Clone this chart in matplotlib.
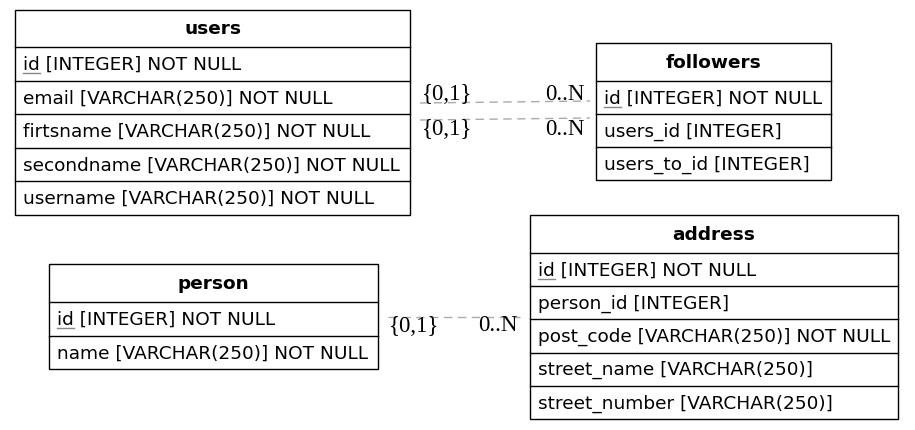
import matplotlib
matplotlib.use('Agg')
import matplotlib.pyplot as plt
from matplotlib.patches import Rectangle

# tables and their columns
users_cols = ['id [INTEGER] NOT NULL', 'email [VARCHAR(250)] NOT NULL',
              'firtsname [VARCHAR(250)] NOT NULL', 'secondname [VARCHAR(250)] NOT NULL',
              'username [VARCHAR(250)] NOT NULL']
followers_cols = ['id [INTEGER] NOT NULL', 'users_id [INTEGER]', 'users_to_id [INTEGER]']
person_cols = ['id [INTEGER] NOT NULL', 'name [VARCHAR(250)] NOT NULL']
address_cols = ['id [INTEGER] NOT NULL', 'person_id [INTEGER]',
                'post_code [VARCHAR(250)] NOT NULL', 'street_name [VARCHAR(250)]',
                'street_number [VARCHAR(250)]']

# box positions in pixels: x0, x1, y_top, header height, row height
boxes = {
    'users': (users_cols, 15, 410, 11, 37, 33.6),
    'followers': (followers_cols, 596, 831, 44, 38, 33),
    'person': (person_cols, 49, 378, 265, 38, 33.5),
    'address': (address_cols, 530, 898, 216, 38, 33.2),
}

# relations: (x0, y0, x1, y1, left label pos, right label pos)
relations = [
    (420, 104, 590, 102, (422, 94), (585, 94)),
    (420, 121, 590, 119, (422, 130), (585, 130)),
    (388, 318, 520, 318, (389, 327), (518, 326)),
]

fig = plt.figure(figsize=(9.15, 4.31), dpi=100)
ax = fig.add_axes([0, 0, 1, 1])
ax.set_xlim(0, 915)
ax.set_ylim(431, 0)
ax.axis('off')

for name, (cols, x0, x1, yt, hh, rh) in boxes.items():
    total = hh + rh * len(cols)
    ax.add_patch(Rectangle((x0, yt), x1 - x0, total, fill=False, edgecolor='black', lw=1))
    ax.text((x0 + x1) / 2, yt + hh / 2, name, ha='center', va='center',
            fontsize=13.3, fontweight='bold')
    y = yt + hh
    for c in cols:
        ax.plot([x0, x1], [y, y], color='black', lw=1)
        ax.text(x0 + 8, y + rh / 2, c, ha='left', va='center', fontsize=13.3)
        if c.startswith('id '):
            ax.plot([x0 + 8, x0 + 25], [y + rh / 2 + 9, y + rh / 2 + 9], color='#888888', lw=1)
        y += rh

for x0, y0, x1, y1, lp, rp in relations:
    ax.plot([x0, x1], [y0, y1], color='#aaaaaa', lw=1, ls=(0, (6, 4)))
    ax.text(lp[0], lp[1], '{0,1}', ha='left', va='center', fontsize=16.5,
            family='Liberation Serif')
    ax.text(rp[0], rp[1], '0..N', ha='right', va='center', fontsize=16.5,
            family='Liberation Serif')

fig.savefig('out.png', dpi=100)
